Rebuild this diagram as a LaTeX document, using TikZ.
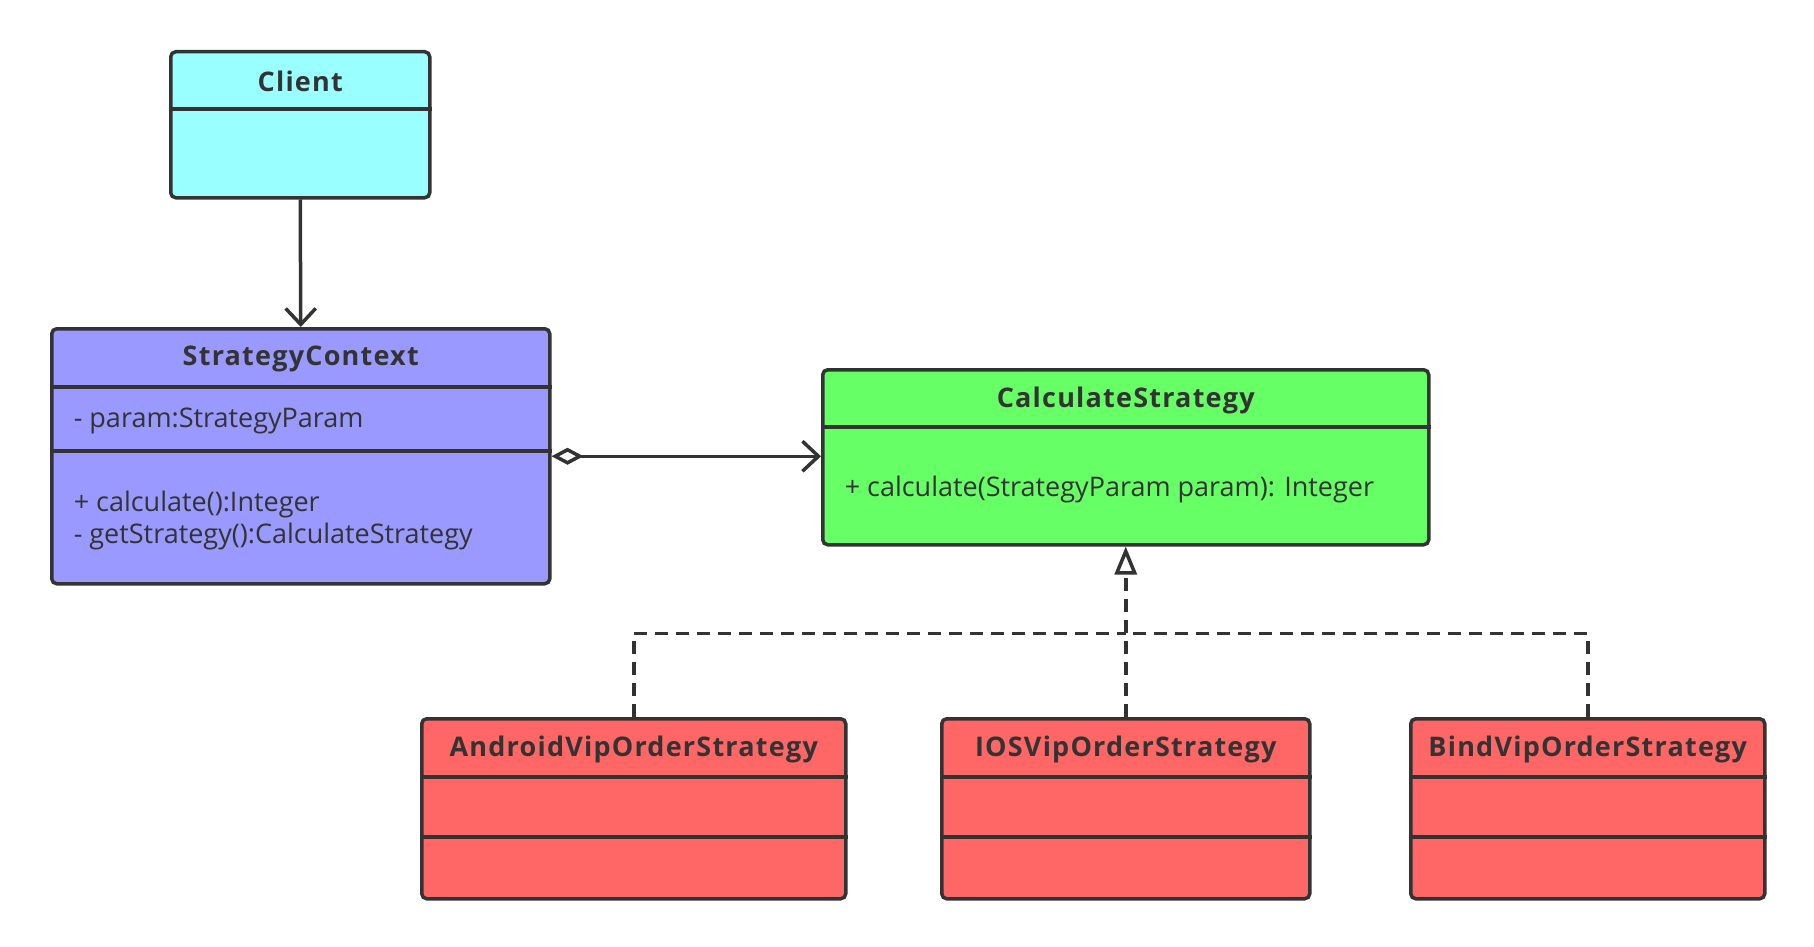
\documentclass[tikz,border=0pt]{standalone}
\usepackage{fontspec}
\setmainfont{Open Sans}
\usetikzlibrary{arrows.meta, positioning, calc}
\definecolor{ink}{HTML}{333333}
\definecolor{clientcol}{HTML}{99FFFF}
\definecolor{contextcol}{HTML}{9999FF}
\definecolor{strategycol}{HTML}{66FF66}
\definecolor{concretecol}{HTML}{FF6666}
\tikzset{
  classbox/.style={draw, rounded corners=5pt, anchor=north west, inner sep=0pt},
  classname/.style={font=\bfseries\fontsize{27}{30}\selectfont\addfontfeature{LetterSpace=4.5}},
  member/.style={anchor=west, inner sep=0pt, align=left, font=\fontsize{27}{32}\selectfont},
  assoc/.style={-{Straight Barb[length=16pt, width=30pt]}},
  aggr/.style={{Diamond[open, length=32pt, width=17pt]}-{Straight Barb[length=16pt, width=30pt]}},
  realize/.style={dash pattern=on 13pt off 8pt},
}
\begin{document}
\begin{tikzpicture}[x=1pt, y=-1pt, line width=3.5pt, color=ink]
  \useasboundingbox (0,0) rectangle (1814,947);

  % class boxes
  \node[classbox, fill=clientcol, minimum width=259pt, minimum height=146pt] (client) at (169,50) {};
  \node[classbox, fill=contextcol, minimum width=498pt, minimum height=255pt] (context) at (50,327) {};
  \node[classbox, fill=strategycol, minimum width=606pt, minimum height=175pt] (strategy) at (821,368) {};
  \node[classbox, fill=concretecol, minimum width=424pt, minimum height=180pt] (android) at (420,717) {};
  \node[classbox, fill=concretecol, minimum width=368pt, minimum height=180pt] (ios) at (940,717) {};
  \node[classbox, fill=concretecol, minimum width=354pt, minimum height=180pt] (bind) at (1409,717) {};

  % compartments
  \draw ([yshift=-59pt]client.north west) -- ([yshift=-59pt]client.north east);
  \draw ([yshift=-60pt]context.north west) -- ([yshift=-60pt]context.north east);
  \draw ([yshift=-124pt]context.north west) -- ([yshift=-124pt]context.north east);
  \draw ([yshift=-59pt]strategy.north west) -- ([yshift=-59pt]strategy.north east);
  \foreach \c in {android, ios, bind} {
    \draw ([yshift=-60pt]\c.north west) -- ([yshift=-60pt]\c.north east);
    \draw ([yshift=-120pt]\c.north west) -- ([yshift=-120pt]\c.north east);
  }

  % names and members
  \node[classname] (clientname) at ($(client.north)+(0,31)$) {Client};
  \node[classname] (contextname) at ($(context.north)+(0,32)$) {StrategyContext};
  \node[member] (contextattr) at ($(context.north west)+(22,94)$) {- param:StrategyParam};
  \node[member] (contextops) at ($(context.north west)+(22,193)$) {+ calculate():Integer\\- getStrategy():CalculateStrategy};
  \node[classname] (strategyname) at ($(strategy.north)+(0,32)$) {CalculateStrategy};
  \node[member] (strategyops) at ($(strategy.north west)+(22,121)$) {+ calculate(StrategyParam param): Integer};
  \node[classname] (androidname) at ($(android.north)+(0,32)$) {AndroidVipOrderStrategy};
  \node[classname] (iosname) at ($(ios.north)+(0,32)$) {IOSVipOrderStrategy};
  \node[classname] (bindname) at ($(bind.north)+(0,32)$) {BindVipOrderStrategy};

  % relations
  \draw[assoc] (client.south) -- (context.north);
  \draw[aggr] (context.east) -- (context.east -| strategy.west);
  \coordinate (bus) at ($(strategy.south)+(0,87)$);
  \draw[realize] (android.north) |- (bus);
  \draw[realize] (bind.north) |- (bus);
  \draw[realize, -{Triangle[fill=white, length=28pt, width=22pt]}] (ios.north) -- (strategy.south);
\end{tikzpicture}
\end{document}
